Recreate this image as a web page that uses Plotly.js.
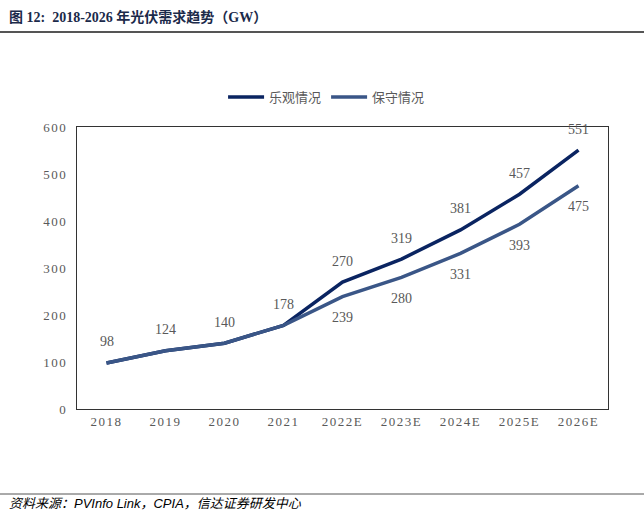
<!DOCTYPE html>
<html><head><meta charset="utf-8">
<script src="https://cdn.plot.ly/plotly-3.0.1.min.js"></script>
<style>
body{margin:0;background:#fff;}
#chart{width:644px;height:531px;}
.xtick text,.ytick text{letter-spacing:1.5px;}
</style></head>
<body><div id="chart"></div>
<script>
var categories = ['2018','2019','2020','2021','2022E','2023E','2024E','2025E','2026E'];
var optimistic = [98,124,140,178,270,319,381,457,551];
var conservative = [98,124,140,178,239,280,331,393,475];
var yTicks = [0,100,200,300,400,500,600];
var seriesNames = ['乐观情况','保守情况'];

var labelFont = {family:'Liberation Serif, serif', size:14, color:'#595959'};

var traces = [
 {x:categories, y:optimistic, name:seriesNames[0], type:'scatter', mode:'lines',
  line:{color:'#0a2461', width:3.5}},
 {x:categories, y:conservative, name:seriesNames[1], type:'scatter', mode:'lines',
  line:{color:'#3a5687', width:3.5}}
];

var annotations = [];
categories.forEach(function(c,i){
  annotations.push({x:i, y:optimistic[i], xref:'x', yref:'y', text:String(optimistic[i]),
    showarrow:false, yshift:21, font:labelFont});
  if(i>=4) annotations.push({x:i, y:conservative[i], xref:'x', yref:'y', text:String(conservative[i]),
    showarrow:false, yshift:-21, font:labelFont});
});
annotations.push({xref:'paper', yref:'paper', x:-70/531, y:(409-17)/282, xanchor:'left', yanchor:'middle', showarrow:false,
   text:'<b>图 12:</b>  <b>2018-2026 年光伏需求趋势（GW）</b>',
   font:{family:'Liberation Serif, Noto Sans CJK SC, serif', size:14, color:'#1b2a4a'}});
annotations.push({xref:'paper', yref:'paper', x:-70/531, y:(409-503)/282, xanchor:'left', yanchor:'middle', showarrow:false,
   text:'<i>资料来源：PVInfo Link，CPIA，信达证券研发中心</i>',
   font:{family:'Liberation Sans, Noto Sans CJK SC, sans-serif', size:13, color:'#000'}});

var layout = {
 width:644, height:531,
 margin:{l:77, r:36, t:127, b:122},
 paper_bgcolor:'#fff', plot_bgcolor:'#fff',
 showlegend:true,
 legend:{orientation:'h', x:0.47, xanchor:'center', y:1.106, yanchor:'middle',
   font:{family:'Noto Sans CJK SC, sans-serif', size:13, color:'#595959'},
   itemwidth:36, tracegroupgap:0},
 xaxis:{type:'category', range:[-0.5,8.5], showgrid:false, zeroline:false,
   showline:true, mirror:true, linecolor:'#333', linewidth:1.2, ticks:'',
   tickfont:{family:'Liberation Serif, serif', size:13, color:'#595959'}},
 yaxis:{range:[0,600], tickvals:yTicks, showgrid:false, zeroline:false,
   showline:true, mirror:true, linecolor:'#333', linewidth:1.2, ticks:'',
   ticklabelstandoff:6,
   tickfont:{family:'Liberation Serif, serif', size:13, color:'#595959'}},
 shapes:[
  {type:'line', xref:'paper', yref:'paper', x0:-77/531, x1:(644-77)/531, y0:(409-32)/282, y1:(409-32)/282,
   line:{color:'#555', width:2}},
  {type:'line', xref:'paper', yref:'paper', x0:-77/531, x1:(644-77)/531, y0:(409-494)/282, y1:(409-494)/282,
   line:{color:'#555', width:1}}
 ],
 annotations:annotations
};
Plotly.newPlot('chart', traces, layout, {displayModeBar:false, staticPlot:true});
</script></body></html>
